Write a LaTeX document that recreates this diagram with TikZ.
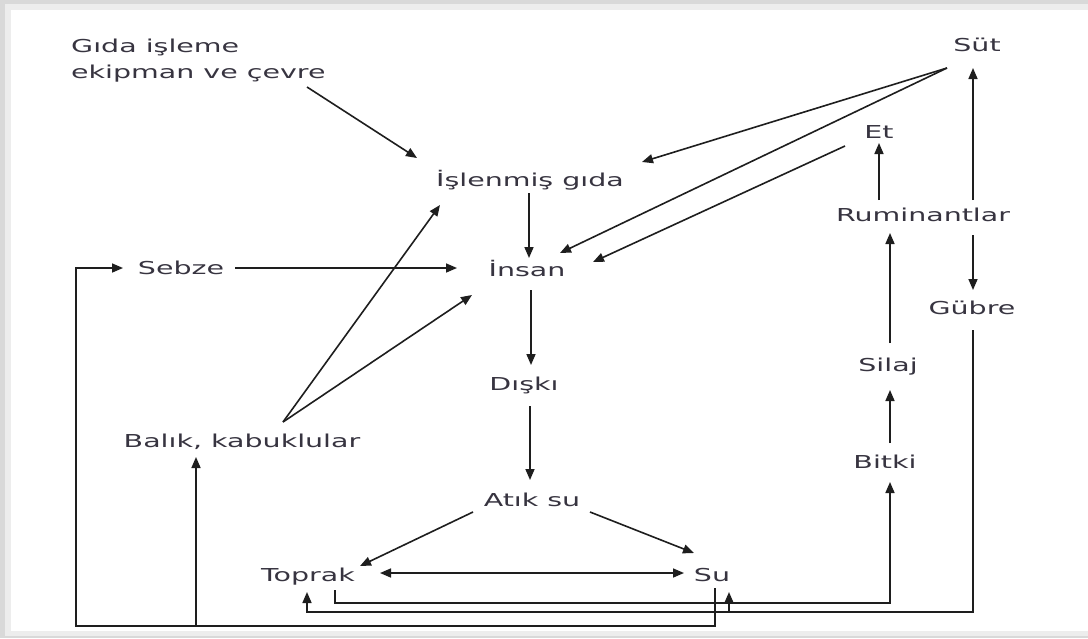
\documentclass[tikz,border=0pt]{standalone}
\usepackage{fontspec}
\setmainfont{DejaVu Sans}[FakeStretch=1.6]
\usetikzlibrary{arrows.meta,calc}
\definecolor{ink}{RGB}{55,52,64}
\definecolor{wirecol}{RGB}{30,30,30}
\begin{document}
\begin{tikzpicture}[x=1pt,y=-1pt,
  lbl/.style={inner sep=0pt, text=ink, font=\fontsize{17.8}{22}\selectfont,
              text height=12pt, text depth=0pt},
  multilbl/.style={inner sep=0pt, text=ink, font=\fontsize{17.8}{26}\selectfont,
              align=left},
  flow/.style={draw=wirecol, line width=1.6pt, -{Triangle[length=11pt,width=9pt]}},
  flowboth/.style={draw=wirecol, line width=1.6pt,
              {Triangle[length=11pt,width=9pt]}-{Triangle[length=11pt,width=9pt]}},
]
% frame with soft grey border
\useasboundingbox (0,0) rectangle (1088,638);
\fill[gray!30] (0,0) rectangle (1088,638);
\fill[gray!14] (5,4) rectangle (1088,636);
\fill[white] (11,10) rectangle (1088,631);

% labels
\node[multilbl, anchor=north west] (gida) at (71,39) {Gıda işleme\\ekipman ve çevre};
\node[lbl] (sut) at (977,45)  {Süt};
\node[lbl] (et)  at (879,132) {Et};
\node[lbl] (rum) at (923,215) {Ruminantlar};
\node[lbl] (gub) at (972,308) {Gübre};
\node[lbl] (sil) at (888,365) {Silaj};
\node[lbl] (bit) at (885,462) {Bitki};
\node[lbl] (isl) at (530,180) {İşlenmiş gıda};
\node[lbl] (ins) at (527,270) {İnsan};
\node[lbl] (seb) at (181,268) {Sebze};
\node[lbl] (dis) at (524,384) {Dışkı};
\node[lbl] (bal) at (242,441) {Balık, kabuklular};
\node[lbl] (atk) at (532,500) {Atık su};
\node[lbl] (top) at (308,575) {Toprak};
\node[lbl] (su)  at (712,575) {Su};

% inputs to processed food and humans
\draw[flow] ($(gida.north west)+(236,48)$) -- ($(isl)+(-113,-22)$);
\draw[flow] ($(sut)+(-30,23)$) -- ($(isl)+(112,-18)$);
\draw[flow] ($(sut)+(-30,23)$) -- ($(ins)+(33,-17)$);
\draw[flow] ($(et)+(-34,14)$) -- ($(ins)+(66,-8)$);
\draw[flow] ($(isl)+(-1,13)$) -- ($(ins)+(2,-12)$);
\draw[flow] ($(seb)+(54,0)$) -- ($(ins)+(-70,-2)$);
\draw[flow] ($(bal)+(41,-19)$) -- ($(isl)+(-90,25)$);
\draw[flow] ($(bal)+(41,-19)$) -- ($(ins)+(-55,25)$);

% waste chain
\draw[flow] ($(ins)+(4,20)$) -- ($(dis)+(7,-19)$);
\draw[flow] ($(dis)+(6,22)$) -- ($(atk)+(-2,-20)$);
\draw[flow] ($(atk)+(-59,12)$) -- ($(top)+(52,-9)$);
\draw[flow] ($(atk)+(58,12)$) -- ($(su)+(-18,-22)$);
\draw[flowboth] ($(top)+(72,-2)$) -- ($(su)+(-28,-2)$);

% ruminant chain
\draw[flow] ($(rum)+(-44,-15)$) -- ($(et)+(0,11)$);
\draw[flow] ($(rum)+(50,-15)$) -- ($(sut)+(-4,23)$);
\draw[flow] ($(rum)+(50,20)$) -- ($(gub)+(1,-18)$);
\draw[flow] ($(sil)+(2,-22)$) -- ($(rum)+(-33,18)$);
\draw[flow] ($(bit)+(5,-19)$) -- ($(sil)+(2,25)$);

% return lines along the bottom
\draw[flow] ($(top)+(27,15)$) |- ($(bit)+(5,141)$) -- ($(bit)+(5,20)$);
\draw[flow] ($(gub)+(1,22)$) |- ($(top)+(-1,37)$) -- ($(top)+(-1,17)$);
\draw[flow] ($(su)+(17,37)$) -- ($(su)+(17,17)$);
\draw[flow] ($(su)+(3,13)$) |- ($(seb)+(-105,358)$) |- ($(seb)+(-58,0)$);
\draw[flow] ($(bal)+(-46,185)$) -- ($(bal)+(-46,16)$);
\end{tikzpicture}
\end{document}
